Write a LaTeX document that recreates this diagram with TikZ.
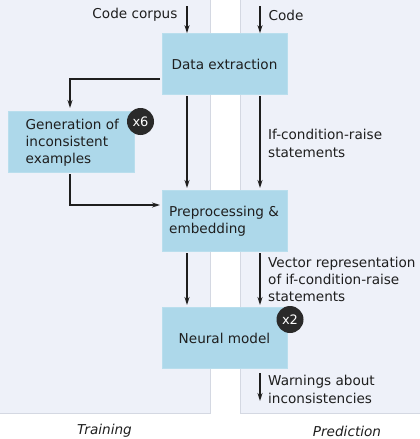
\documentclass[tikz,border=0pt]{standalone}
\usepackage{fontspec}
\setmainfont{DejaVu Sans}
\usetikzlibrary{arrows.meta}
\definecolor{panelbg}{HTML}{EEF1F9}
\definecolor{panelline}{HTML}{D4D8E2}
\definecolor{boxblue}{HTML}{ADD8EA}
\definecolor{badge}{HTML}{2A2A2A}
\definecolor{ink}{HTML}{1E1E1E}
\tikzset{
  panel/.style={fill=panelbg, draw=panelline, line width=0.8pt},
  procbox/.style={fill=boxblue, draw=boxblue!85!white, line width=0.6pt, minimum width=125pt, minimum height=61pt, inner sep=0pt, font=\fontsize{13.6pt}{17.2pt}\selectfont, text=ink},
  badgenode/.style={circle, fill=badge, text=white, minimum size=27pt, inner sep=0pt, font=\fontsize{13pt}{15pt}\selectfont},
  lbl/.style={font=\fontsize{13.6pt}{17.2pt}\selectfont, text=ink, inner sep=0pt, align=left},
  flow/.style={-{Stealth[length=8pt,width=5pt]}, line width=1.3pt, draw=ink},
  caption/.style={font=\fontsize{13.6pt}{16pt}\selectfont\itshape, text=ink}
}
\begin{document}
\begin{tikzpicture}[x=1pt,y=-1pt]
\useasboundingbox (0,0) rectangle (420,439);
% panels
\fill[panelbg] (0,0) rectangle (210.5,413);
\draw[panelline, line width=0.8pt] (210.5,0) -- (210.5,413) -- (0,413);
\fill[panelbg] (240,0) rectangle (420,413);
\draw[panelline, line width=0.8pt] (240,0) -- (240,413) -- (420,413);
% boxes
\node[procbox] (extract) at (224.5,64) {Data extraction};
\node[procbox, minimum width=126pt, minimum height=61pt] (gen) at (71.5,142) {};
\node[lbl, anchor=north west] (gentext) at (25.5,118.5) {Generation of\\inconsistent\\examples};
\node[procbox] (prep) at (224.5,221) {};
\node[lbl, anchor=north west] (preptext) at (169,205.5) {Preprocessing \&\\embedding};
\node[procbox] (neural) at (224.5,338) {Neural model};
\node[badgenode] (b6) at (140.5,121.5) {x6};
\node[badgenode] (b2) at (290,319.5) {x2};
% top inputs
\coordinate (cc) at (187,6);
\coordinate (cd) at (260,6);
\draw[flow] (cc) -- (cc |- extract.north) node[pos=0.33, left=9pt, lbl] {Code corpus};
\draw[flow] (cd) -- (cd |- extract.north) node[pos=0.33, right=8pt, lbl] {Code};
% training path
\coordinate (eL) at (160,79);
\draw[flow] (eL) -| (70,108);
\draw[flow] (187,96) -- (187,188);
\draw[flow] (70,174) |- (160,205);
\draw[flow] (187,253) -- (187,305);
% prediction path
\draw[flow] (260,96) -- (260,188);
\node[lbl, anchor=west] (l1) at (268,143.5) {If-condition-raise\\statements};
\draw[flow] (260,253) -- (260,305);
\node[lbl, anchor=west] (l2) at (268,279.5) {Vector representation\\of if-condition-raise\\statements};
\coordinate (out) at (260,401);
\draw[flow] (260,373) -- (out);
\node[lbl, anchor=west] (l3) at (268,389.5) {Warnings about\\inconsistencies};
% captions
\node[caption] (tr) at (104.5,431) {Training};
\node[caption] (pr) at (347,431) {Prediction};
\end{tikzpicture}
\end{document}
